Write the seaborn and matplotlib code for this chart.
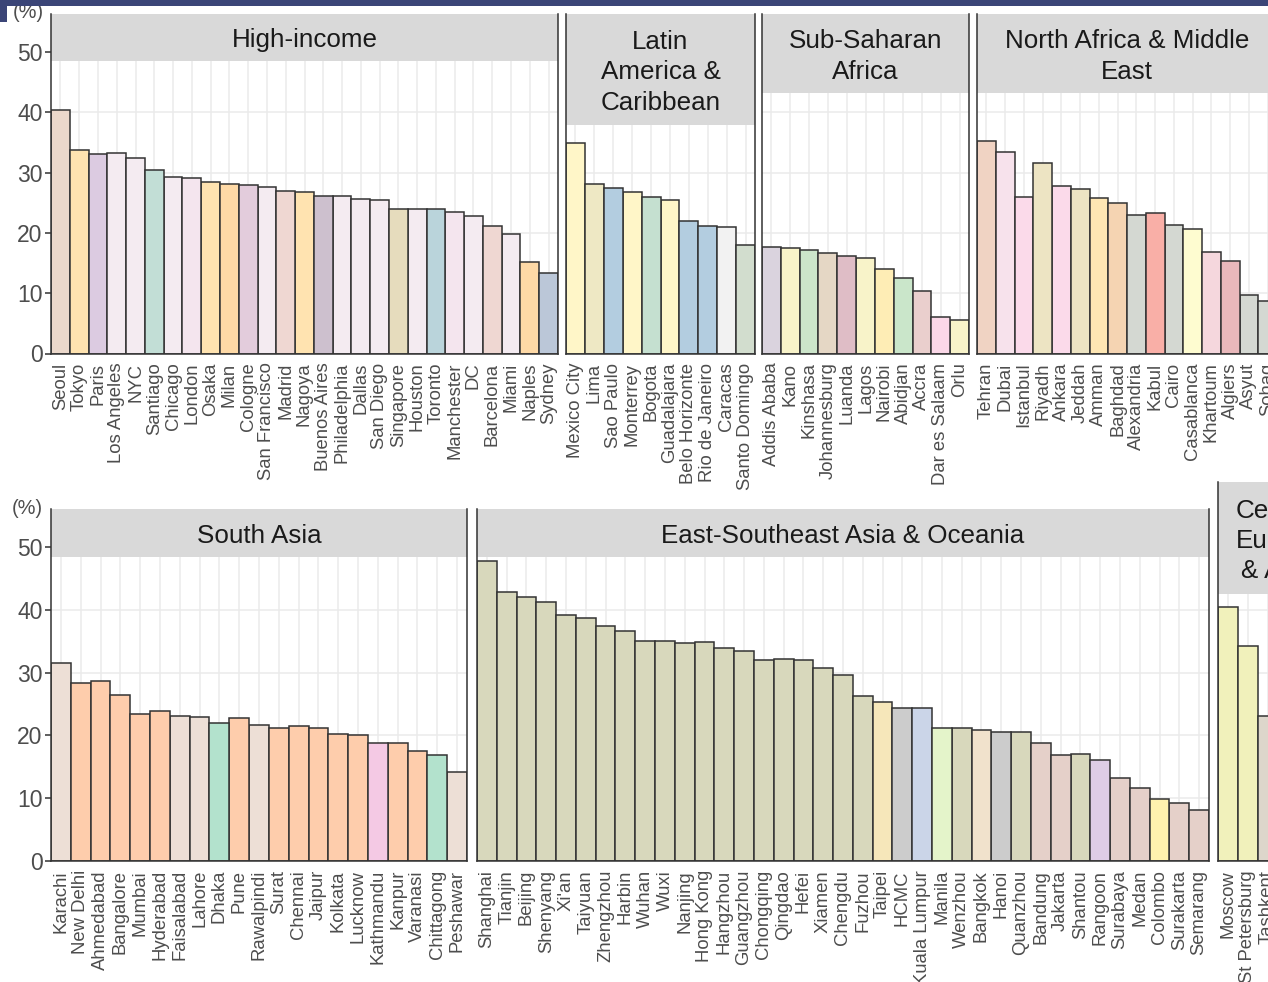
import pandas as pd
import matplotlib
matplotlib.use("Agg")
import matplotlib.pyplot as plt
import matplotlib.transforms as mtransforms
from matplotlib.patches import Rectangle
import seaborn as sns

W, H = 1268, 982

# --- data ---
cities_hi = ["Seoul", "Tokyo", "Paris", "Los Angeles", "NYC", "Santiago", "Chicago", "London",
             "Osaka", "Milan", "Cologne", "San Francisco", "Madrid", "Nagoya", "Buenos Aires",
             "Philadelphia", "Dallas", "San Diego", "Singapore", "Houston", "Toronto",
             "Manchester", "DC", "Barcelona", "Miami", "Naples", "Sydney"]
values_hi = [40.4, 33.8, 33.1, 33.2, 32.4, 30.4, 29.2, 29.1, 28.4, 28.1, 28.0, 27.6, 27.0, 26.7,
             26.1, 26.1, 25.7, 25.4, 23.9, 24.0, 23.9, 23.5, 22.8, 21.2, 19.8, 15.1, 13.4]
countries_hi = ["South Korea", "Japan", "France", "USA", "USA", "Chile", "USA", "UK", "Japan",
                "Italy", "Germany", "USA", "Spain", "Japan", "Argentina", "USA", "USA", "USA",
                "Singapore", "USA", "Canada", "UK", "USA", "Spain", "USA", "Italy", "Australia"]

cities_lac = ["Mexico City", "Lima", "Sao Paulo", "Monterrey", "Bogota", "Guadalajara",
              "Belo Horizonte", "Rio de Janeiro", "Caracas", "Santo Domingo"]
values_lac = [34.9, 28.1, 27.4, 26.8, 26.0, 25.4, 21.9, 21.2, 21.0, 18.0]
countries_lac = ["Mexico", "Peru", "Brazil", "Mexico", "Colombia", "Mexico", "Brazil", "Brazil",
                 "Venezuela", "Dominican Republic"]

cities_ssa = ["Addis Ababa", "Kano", "Kinshasa", "Johannesburg", "Luanda", "Lagos", "Nairobi",
              "Abidjan", "Accra", "Dar es Salaam", "Orlu"]
values_ssa = [17.6, 17.5, 17.2, 16.7, 16.2, 15.9, 14.0, 12.5, 10.4, 6.1, 5.6]
countries_ssa = ["Ethiopia", "Nigeria", "DR Congo", "South Africa", "Angola", "Nigeria", "Kenya",
                 "Cote d'Ivoire", "Ghana", "Tanzania", "Nigeria"]

cities_mena = ["Tehran", "Dubai", "Istanbul", "Riyadh", "Ankara", "Jeddah", "Amman", "Baghdad",
               "Alexandria", "Kabul", "Cairo", "Casablanca", "Khartoum", "Algiers", "Asyut", "Sohag"]
values_mena = [35.2, 33.4, 26.0, 31.6, 27.8, 27.3, 25.8, 25.0, 22.9, 23.3, 21.3, 20.6, 16.8,
               15.4, 9.7, 8.7]
countries_mena = ["Iran", "UAE", "Turkey", "Saudi Arabia", "Turkey", "Saudi Arabia", "Jordan",
                  "Iraq", "Egypt", "Afghanistan", "Egypt", "Morocco", "Sudan", "Algeria",
                  "Egypt", "Egypt"]

cities_sa = ["Karachi", "New Delhi", "Ahmedabad", "Bangalore", "Mumbai", "Hyderabad",
             "Faisalabad", "Lahore", "Dhaka", "Pune", "Rawalpindi", "Surat", "Chennai", "Jaipur",
             "Kolkata", "Lucknow", "Kathmandu", "Kanpur", "Varanasi", "Chittagong", "Peshawar"]
values_sa = [31.6, 28.3, 28.6, 26.5, 23.4, 23.9, 23.1, 22.9, 21.9, 22.7, 21.6, 21.1, 21.5, 21.1,
             20.3, 20.0, 18.8, 18.8, 17.5, 16.8, 14.2]
countries_sa = ["Pakistan", "India", "India", "India", "India", "India", "Pakistan", "Pakistan",
                "Bangladesh", "India", "Pakistan", "India", "India", "India", "India", "India",
                "Nepal", "India", "India", "Bangladesh", "Pakistan"]

cities_esa = ["Shanghai", "Tianjin", "Beijing", "Shenyang", "Xi'an", "Taiyuan", "Zhengzhou",
              "Harbin", "Wuhan", "Wuxi", "Nanjing", "Hong Kong", "Hangzhou", "Guangzhou",
              "Chongqing", "Qingdao", "Hefei", "Xiamen", "Chengdu", "Fuzhou", "Taipei", "HCMC",
              "Kuala Lumpur", "Manila", "Wenzhou", "Bangkok", "Hanoi", "Quanzhou", "Bandung",
              "Jakarta", "Shantou", "Rangoon", "Surabaya", "Medan", "Colombo", "Surakarta",
              "Semarang"]
values_esa = [47.8, 42.8, 42.0, 41.2, 39.1, 38.7, 37.5, 36.6, 35.1, 35.1, 34.7, 34.8, 33.9, 33.4,
              32.0, 32.2, 32.0, 30.8, 29.6, 26.3, 25.3, 24.3, 24.4, 21.2, 21.1, 20.9, 20.5, 20.6,
              18.8, 16.8, 17.0, 16.1, 13.2, 11.7, 9.9, 9.3, 8.1]
countries_esa = ["China"] * 20 + ["Taiwan", "Vietnam", "Malaysia", "Philippines", "China",
                                  "Thailand", "Vietnam", "China", "Indonesia", "Indonesia",
                                  "China", "Myanmar", "Indonesia", "Indonesia", "Sri Lanka",
                                  "Indonesia", "Indonesia"]

cities_eca = ["Moscow", "St Petersburg", "Tashkent"]
values_eca = [40.4, 34.3, 23.1]
countries_eca = ["Russia", "Russia", "Uzbekistan"]

palette = {
    "South Korea": "#EBD8CB", "Japan": "#FFE3B0", "France": "#DCCBE1", "USA": "#F4EBF1",
    "Chile": "#C2DED6", "UK": "#F4E5EE", "Italy": "#FED9A6", "Germany": "#E3CCDC",
    "Spain": "#EFD7D2", "Argentina": "#CDC0CE", "Singapore": "#E6DCBD", "Canada": "#BAD4DB",
    "Australia": "#BBC7D8",
    "Mexico": "#FFF6C8", "Peru": "#EEE8C4", "Brazil": "#B3CDE0", "Colombia": "#C5E0D0",
    "Venezuela": "#F2F2F2", "Dominican Republic": "#D2DDCE",
    "Ethiopia": "#DAD3DE", "Nigeria": "#F8F3C9", "DR Congo": "#CCE5CA", "South Africa": "#E5D7C5",
    "Angola": "#DFBDC6", "Kenya": "#FEEDB5", "Cote d'Ivoire": "#CAE6CA", "Ghana": "#EACFCD",
    "Tanzania": "#FBD8E8",
    "Iran": "#F0D3C3", "UAE": "#F7E2EC", "Turkey": "#FBDAEA", "Saudi Arabia": "#EDE4C3",
    "Jordan": "#FEE6B3", "Iraq": "#F5D4B2", "Egypt": "#D4D8D2", "Afghanistan": "#F9AFA7",
    "Morocco": "#FEFCD0", "Sudan": "#F5D7DD", "Algeria": "#E9B8BB",
    "Pakistan": "#EDDFD6", "India": "#FECDAC", "Bangladesh": "#B3E2CD", "Nepal": "#F4C9E4",
    "China": "#D8D8BC", "Taiwan": "#F6E7BA", "Vietnam": "#CCCCCC", "Malaysia": "#CBD5E8",
    "Philippines": "#E4F4CA", "Thailand": "#F1E2CC", "Indonesia": "#E5D0C9", "Myanmar": "#DECDE6",
    "Sri Lanka": "#FFF2AE",
    "Russia": "#F1F1BB", "Uzbekistan": "#DDD6CB",
}

sns.set_style("white")
plt.rcParams["font.family"] = ["Liberation Sans", "DejaVu Sans"]

fig = plt.figure(figsize=(W / 100, H / 100), dpi=100)
fig.patch.set_facecolor("white")


def panel(cities, values, countries, title, x0, x1, y_top, y_bot, px_unit, strip_bot,
          first=False, n_slots=None):
    ax = fig.add_axes([x0 / W, 1 - y_bot / H, (x1 - x0) / W, (y_bot - y_top) / H])
    df = pd.DataFrame({"city": cities, "value": values, "country": countries})
    sns.barplot(data=df, x="city", y="value", hue="country", palette=palette, dodge=False,
                width=1, saturation=1, edgecolor="#333333", linewidth=1.1, legend=False, ax=ax)
    n = n_slots or len(cities)
    ax.set_xlim(-0.5, n - 0.5)
    ax.set_ylim(0, (y_bot - y_top) / px_unit)
    ax.set_yticks([0, 10, 20, 30, 40, 50])
    ax.set_xlabel("")
    ax.set_ylabel("")
    ax.grid(True, color="#EBEBEB", linewidth=1.1)
    ax.set_axisbelow(True)
    for s in ["left", "right", "bottom"]:
        ax.spines[s].set_color("#333333")
        ax.spines[s].set_linewidth(1.1)
    ax.spines["top"].set_visible(False)
    ax.tick_params(axis="x", length=0, pad=6.5, labelsize=13.3, labelcolor="#4D4D4D",
                   rotation=90)
    if first:
        ax.tick_params(axis="y", left=True, length=4.5, width=1.1, color="#333333", pad=1.5,
                       labelsize=16.5, labelcolor="#4D4D4D")
    else:
        ax.tick_params(axis="y", left=False, labelleft=False)
    # facet strip drawn over the top of the panel
    h = (strip_bot - y_top) / (y_bot - y_top)
    ax.add_patch(Rectangle((0, 1 - h), 1, h, transform=ax.transAxes, facecolor="#D9D9D9",
                           edgecolor="none", zorder=2.2, clip_on=False))
    tr = mtransforms.offset_copy(ax.transAxes, fig=fig, y=-3, units="dots")
    ax.text(0.5, 1 - h / 2, title, transform=tr, ha="center", va="center",
            fontsize=18.7, color="#1A1A1A", linespacing=1.34, zorder=3)
    return ax


# top row
panel(cities_hi, values_hi, countries_hi, "High-income", 51, 558, 14, 353.5, 6.03, 61, first=True)
panel(cities_lac, values_lac, countries_lac, "Latin\nAmerica &\nCaribbean", 566, 755, 14, 353.5, 6.03, 125)
panel(cities_ssa, values_ssa, countries_ssa, "Sub-Saharan\nAfrica", 762, 969, 14, 353.5, 6.03, 93)
panel(cities_mena, values_mena, countries_mena, "North Africa & Middle\nEast", 977, 1277, 14, 353.5, 6.03, 93)

# bottom row
panel(cities_sa, values_sa, countries_sa, "South Asia", 51, 467, 509, 861, 6.28, 557, first=True)
panel(cities_esa, values_esa, countries_esa, "East-Southeast Asia & Oceania", 477, 1209, 509, 861, 6.28, 557)
panel(cities_eca, values_eca, countries_eca, "Central\nEurope\n& Asia", 1218, 1218 + 6 * 19.8, 482, 861, 6.28, 594,
      n_slots=6)

# axis titles
fig.text(28 / W, 1 - 13 / H, "(%)", ha="center", va="center", fontsize=14.4, color="#4D4D4D", zorder=1)
fig.text(27 / W, 1 - 508 / H, "(%)", ha="center", va="center", fontsize=14.4, color="#4D4D4D", zorder=1)

# navy header band
fig.add_artist(Rectangle((0, 1 - 6 / H), 1, 6 / H, transform=fig.transFigure,
                         facecolor="#3B4577", edgecolor="none", zorder=10))
fig.add_artist(Rectangle((0, 1 - 22 / H), 7 / W, 22 / H, transform=fig.transFigure,
                         facecolor="#3B4577", edgecolor="none", zorder=10))

fig.savefig("out.png", dpi=100)
